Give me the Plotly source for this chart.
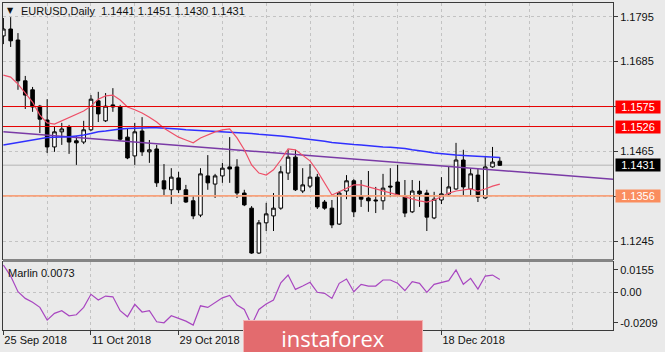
import plotly.graph_objects as go
import pandas as pd

# ---------------- data ----------------
dates = pd.bdate_range("2018-09-25", periods=69)

opens = [1.1748,1.1765,1.1738,1.1638,1.1616,1.1576,1.1542,1.1476,1.1513,1.1525,
         1.1491,1.1488,1.1518,1.1589,1.1540,1.1579,1.1574,1.1500,1.1454,1.1515,
         1.1464,1.1471,1.1393,1.1371,1.1400,1.1371,1.1344,1.1309,1.1405,1.1385,
         1.1405,1.1427,1.1427,1.1363,1.1326,1.1216,1.1290,1.1307,1.1326,1.1412,
         1.1451,1.1368,1.1380,1.1402,1.1341,1.1326,1.1287,1.1368,1.1393,1.1356,
         1.1351,1.1346,1.1344,1.1380,1.1390,1.1356,1.1317,1.1368,1.1363,1.1302,
         1.1346,1.1361,1.1373,1.1444,1.1373,1.1407,1.1351,1.1427,1.1441]
highs = [1.1792,1.1794,1.1755,1.1650,1.1623,1.1579,1.1593,1.1527,1.1535,1.1530,
         1.1503,1.1540,1.1603,1.1611,1.1608,1.1620,1.1579,1.1522,1.1535,1.1549,
         1.1493,1.1481,1.1434,1.1424,1.1415,1.1383,1.1358,1.1424,1.1456,1.1410,
         1.1437,1.1500,1.1446,1.1371,1.1331,1.1297,1.1339,1.1363,1.1429,1.1469,
         1.1469,1.1424,1.1434,1.1410,1.1346,1.1346,1.1368,1.1407,1.1397,1.1395,
         1.1417,1.1378,1.1410,1.1424,1.1432,1.1395,1.1395,1.1393,1.1371,1.1366,
         1.1402,1.1427,1.1486,1.1469,1.1424,1.1422,1.1451,1.1476,1.1451]
lows = [1.1728,1.1721,1.1616,1.1569,1.1562,1.1510,1.1461,1.1464,1.1481,1.1459,
        1.1432,1.1483,1.1515,1.1537,1.1537,1.1562,1.1491,1.1446,1.1432,1.1454,
        1.1437,1.1378,1.1356,1.1336,1.1363,1.1339,1.1299,1.1304,1.1371,1.1351,
        1.1388,1.1388,1.1351,1.1331,1.1214,1.1214,1.1270,1.1270,1.1322,1.1395,
        1.1368,1.1363,1.1375,1.1324,1.1322,1.1277,1.1285,1.1348,1.1304,1.1329,
        1.1317,1.1314,1.1322,1.1353,1.1356,1.1304,1.1314,1.1329,1.1270,1.1299,
        1.1336,1.1358,1.1371,1.1356,1.1358,1.1341,1.1348,1.1425,1.1430]
closes = [1.1765,1.1736,1.1638,1.1603,1.1574,1.1544,1.1476,1.1513,1.1520,1.1488,
          1.1486,1.1518,1.1593,1.1557,1.1576,1.1574,1.1495,1.1449,1.1513,1.1464,
          1.1469,1.1388,1.1373,1.1402,1.1371,1.1341,1.1307,1.1410,1.1388,1.1405,
          1.1424,1.1422,1.1363,1.1334,1.1216,1.1290,1.1312,1.1326,1.1415,1.1451,
          1.1371,1.1383,1.1402,1.1329,1.1326,1.1285,1.1363,1.1393,1.1317,1.1348,
          1.1344,1.1344,1.1375,1.1378,1.1358,1.1314,1.1368,1.1361,1.1304,1.1348,
          1.1361,1.1378,1.1444,1.1378,1.1410,1.1353,1.1427,1.1439,1.1431]

ma_fast = [1.1652,1.1647,1.1630,1.1608,1.1586,1.1554,1.1535,1.1532,1.1540,1.1547,
           1.1554,1.1564,1.1576,1.1593,1.1601,1.1603,1.1591,1.1574,1.1567,1.1559,
           1.1549,1.1537,1.1522,1.1510,1.1500,1.1493,1.1486,1.1498,1.1505,1.1513,
           1.1518,1.1520,1.1498,1.1469,1.1432,1.1412,1.1407,1.1420,1.1444,1.1471,
           1.1469,1.1456,1.1442,1.1417,1.1388,1.1358,1.1366,1.1375,1.1383,1.1383,
           1.1378,1.1373,1.1368,1.1363,1.1358,1.1354,1.1349,1.1344,1.1341,1.1346,
           1.1354,1.1363,1.1368,1.1371,1.1373,1.1368,1.1373,1.1380,1.1385]
ma_slow = [1.1481,1.1484,1.1488,1.1491,1.1494,1.1497,1.1499,1.1500,1.1500,1.1501,
           1.1503,1.1505,1.1509,1.1513,1.1515,1.1518,1.1520,1.1521,1.1522,1.1522,
           1.1523,1.1523,1.1522,1.1522,1.1520,1.1518,1.1517,1.1516,1.1515,1.1514,
           1.1514,1.1513,1.1512,1.1510,1.1509,1.1507,1.1506,1.1504,1.1503,1.1501,
           1.1499,1.1497,1.1494,1.1492,1.1490,1.1487,1.1485,1.1484,1.1482,1.1481,
           1.1479,1.1478,1.1476,1.1475,1.1474,1.1472,1.1469,1.1467,1.1464,1.1461,
           1.1459,1.1457,1.1456,1.1455,1.1454,1.1453,1.1452,1.1450,1.1450]
marlin = [0.0189,0.0113,0.0005,-0.0041,-0.0068,-0.0103,-0.0191,-0.0144,-0.0126,-0.0161,
          -0.0154,-0.0103,-0.0013,-0.0052,-0.0025,-0.0030,-0.0126,-0.0168,-0.0082,-0.0135,
          -0.0126,-0.0202,-0.0209,-0.0161,-0.0179,-0.0198,-0.0225,-0.0092,-0.0103,-0.0071,
          -0.0037,-0.0020,-0.0087,-0.0117,-0.0225,-0.0117,-0.0080,-0.0052,0.0067,0.0120,
          0.0021,0.0044,0.0070,0.0001,-0.0006,-0.0041,0.0063,0.0093,0.0005,0.0056,
          0.0044,0.0044,0.0086,0.0086,0.0063,0.0012,0.0074,0.0063,0.0001,0.0056,
          0.0067,0.0081,0.0155,0.0056,0.0097,0.0023,0.0113,0.0120,0.0090]

trend_x = [0, 84]
trend_y = [1.1513, 1.1396]
resistance_levels = [1.1575, 1.1526]
support_level = 1.1356
last_price = 1.1431
price_ticks = [1.1245, 1.1355, 1.1465, 1.1575, 1.1685, 1.1795]
price_ticklabels = ["1.1245", "", "1.1465", "", "1.1685", "1.1795"]
osc_ticks = [-0.0209, 0.0, 0.0155]
osc_ticklabels = ["-0.0209", "0.00", "0.0155"]
title_text = "EURUSD,Daily  1.1441 1.1451 1.1430 1.1431"
osc_label = "Marlin 0.0073"
hidden_label_idx = [36, 48]   # date labels covered by the watermark in the reference

# ---------------- layout helpers ----------------
W, H = 665, 352
ML, MR, MT, MB = 3, 52, 3, 22
PW, PH = W - ML - MR, H - MT - MB
def px2x(px): return (px - ML) / PW
def px2y(py): return (H - MB - py) / PH

idx = list(range(len(dates)))
label_idx = idx[::12]
label_txt = ["" if i in hidden_label_idx else f"{dates[i].day} {dates[i].strftime('%b %Y')}"
             for i in label_idx]
grid_idx = list(range(0, 90, 6))

FONT = "Liberation Sans"
GRID = "#c3c3c3"

fig = go.Figure()
fig.add_trace(go.Candlestick(
    x=idx, open=opens, high=highs, low=lows, close=closes,
    xaxis="x", yaxis="y",
    increasing=dict(line=dict(color="black", width=1), fillcolor="white"),
    decreasing=dict(line=dict(color="black", width=1), fillcolor="black"),
    whiskerwidth=0, showlegend=False, hoverinfo="skip"))
fig.add_trace(go.Scatter(x=trend_x, y=trend_y, mode="lines", xaxis="x", yaxis="y",
                         line=dict(color="#7a3aa6", width=1.5), showlegend=False, hoverinfo="skip"))
fig.add_trace(go.Scatter(x=idx, y=ma_slow, mode="lines", xaxis="x", yaxis="y",
                         line=dict(color="#3030ff", width=1.5), showlegend=False, hoverinfo="skip"))
fig.add_trace(go.Scatter(x=idx, y=ma_fast, mode="lines", xaxis="x", yaxis="y",
                         line=dict(color="#ee5068", width=1.2), showlegend=False, hoverinfo="skip"))
fig.add_trace(go.Scatter(x=idx, y=marlin, mode="lines", xaxis="x2", yaxis="y2",
                         line=dict(color="#a846c0", width=1.2), showlegend=False, hoverinfo="skip"))

top_dom = [px2y(259), 1]
bot_dom = [0, px2y(262)]

common_x = dict(range=[-0.05, 83.5], showgrid=False, zeroline=False,
                showline=True, mirror=True, linecolor="#3a3a3a", linewidth=1,
                minor=dict(tickvals=grid_idx, showgrid=True, gridcolor=GRID,
                           griddash="3px,3px", gridwidth=1, ticklen=0))
fig.update_layout(
    width=W, height=H,
    margin=dict(l=ML, r=MR, t=MT, b=MB, pad=0),
    paper_bgcolor="#eaeaea", plot_bgcolor="#eaeaea",
    font=dict(family=FONT, size=11, color="#111111"),
    showlegend=False,
    xaxis=dict(anchor="y", domain=[0, 1], showticklabels=False, ticks="",
               rangeslider=dict(visible=False), **common_x),
    xaxis2=dict(anchor="y2", domain=[0, 1], matches="x",
                tickvals=label_idx, ticktext=label_txt, ticks="outside", ticklen=4,
                tickcolor="#3a3a3a", ticklabelposition="outside right",
                tickfont=dict(family=FONT, size=11, color="#111111"),
                rangeslider=dict(visible=False), **common_x),
    yaxis=dict(anchor="x", domain=top_dom, side="right",
               range=[1.12014, 1.18287], tickvals=price_ticks, ticktext=price_ticklabels,
               ticks="outside", ticklen=4, tickcolor="#3a3a3a",
               showgrid=True, gridcolor=GRID, griddash="3px,3px", gridwidth=1,
               zeroline=False, showline=True, mirror=True, linecolor="#3a3a3a",
               tickfont=dict(family=FONT, size=11, color="#111111")),
    yaxis2=dict(anchor="x2", domain=bot_dom, side="right",
                range=[-0.0259, 0.0210], tickvals=osc_ticks, ticktext=osc_ticklabels,
                ticks="outside", ticklen=4, tickcolor="#3a3a3a", showgrid=False,
                minor=dict(tickvals=[0.0], showgrid=True, gridcolor=GRID,
                           griddash="3px,3px", ticklen=0),
                zeroline=False, showline=True, mirror=True, linecolor="#3a3a3a",
                tickfont=dict(family=FONT, size=11, color="#111111")),
)

shapes = []
shapes.append(dict(type="line", xref="paper", yref="y", x0=0, x1=1,
                   y0=last_price, y1=last_price, line=dict(color="#c6c6c6", width=1.5),
                   layer="below"))
for lv in resistance_levels:
    shapes.append(dict(type="line", xref="paper", yref="y", x0=0, x1=1,
                       y0=lv, y1=lv, line=dict(color="#e60000", width=1), layer="above"))
shapes.append(dict(type="line", xref="paper", yref="y", x0=0, x1=1,
                   y0=support_level, y1=support_level,
                   line=dict(color="#f7a27c", width=1.8), layer="above"))
# panel separator
shapes.append(dict(type="rect", xref="paper", yref="paper", x0=0, x1=1,
                   y0=px2y(262), y1=px2y(259), fillcolor="#858585",
                   line=dict(width=0), layer="above"))
fig.update_layout(shapes=shapes)

ann = []
def price_box(val, bg):
    ann.append(dict(xref="paper", yref="y", x=px2x(615), y=val, xanchor="left",
                    yanchor="middle", text=f"{val:.4f}", showarrow=False,
                    font=dict(family=FONT, size=11, color="white"),
                    bgcolor=bg, width=44, height=12, borderpad=0, align="center"))
for lv in resistance_levels:
    price_box(lv, "#ff0000")
price_box(last_price, "#000000")
price_box(support_level, "#fa8d5e")

ann.append(dict(xref="paper", yref="paper", x=px2x(10.5), y=px2y(10.5), text="▼",
                showarrow=False, xanchor="center", yanchor="middle",
                font=dict(family="DejaVu Sans", size=8, color="#111111")))
ann.append(dict(xref="paper", yref="paper", x=px2x(19), y=px2y(11.5), text=title_text,
                showarrow=False, xanchor="left", yanchor="middle",
                font=dict(family=FONT, size=11, color="#111111")))
ann.append(dict(xref="paper", yref="paper", x=px2x(6), y=px2y(272.5), text=osc_label,
                showarrow=False, xanchor="left", yanchor="middle",
                font=dict(family=FONT, size=11, color="#111111")))
# watermark logo
ann.append(dict(xref="paper", yref="paper", x=px2x(333), y=px2y(320), text="instaforex",
                showarrow=False, xanchor="center", yanchor="top",
                font=dict(family="Open Sans", size=22, color="white"),
                bgcolor="#e36b6e", bordercolor="#f3b3b3", borderwidth=1, borderpad=0,
                width=178, height=34, align="center", valign="middle"))
fig.update_layout(annotations=ann)

fig.write_html("out.html")
